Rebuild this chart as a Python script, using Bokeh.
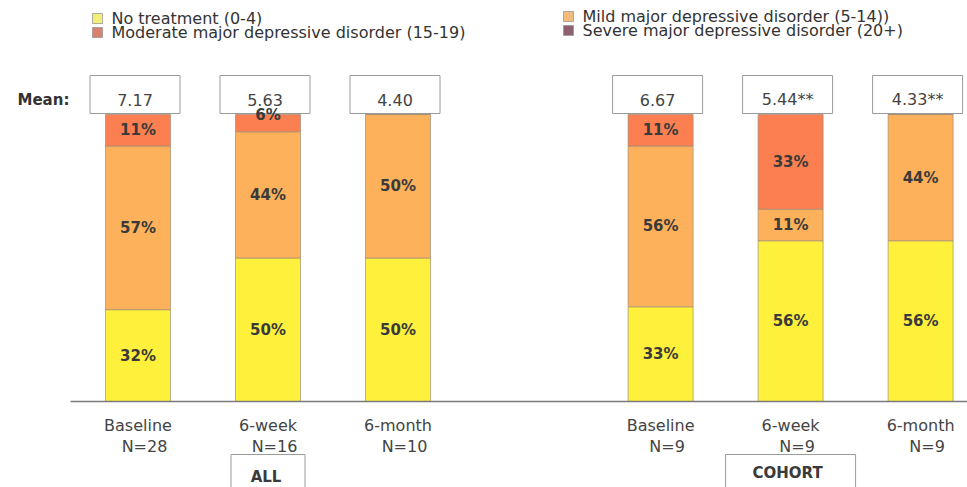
from bokeh.plotting import figure
from bokeh.models import Range1d, ColumnDataSource
from bokeh.embed import file_html
from bokeh.resources import INLINE
from bokeh.core.properties import value

# ---------------- data ----------------
periods = ["Baseline", "6-week", "6-month", "Baseline", "6-week", "6-month"]
n_labels = ["N=28", "N=16", "N=10", "N=9", "N=9", "N=9"]
groups = ["ALL", "ALL", "ALL", "COHORT", "COHORT", "COHORT"]
group_names = ["ALL", "COHORT"]
means = ["7.17", "5.63", "4.40", "6.67", "5.44**", "4.33**"]
no_treatment = [32, 50, 50, 33, 56, 56]
mild = [57, 44, 50, 56, 11, 44]
moderate = [11, 6, 0, 11, 33, 0]
severe = [0, 0, 0, 0, 0, 0]
series_names = ["No treatment (0-4)", "Mild major depressive disorder (5-14))",
                "Moderate major depressive disorder (15-19)", "Severe major depressive disorder (20+)"]

# ---------------- styles ----------------
FONT = value("DejaVu Sans")
bar_colors = ["#FFF03C", "#FDB15B", "#FB7F51", "#8E6070"]
legend_colors = ["#F3EE78", "#F2BC7A", "#D9806E", "#8E6070"]
W, H = 967, 487
PX = 130.0          # pixels per x unit
PY = 2.87           # pixels per percentage point
BASE_PX = 401       # pixel row of 0 %
x_start = -137.5 / PX
x_end = x_start + W / PX
y_end = BASE_PX / PY
y_start = -(H - BASE_PX) / PY


def X(px):
    return x_start + px / PX


def Y(py):
    return (BASE_PX - py) / PY


# bar positions: gap of one slot between the two groups
xs = []
for i, g in enumerate(groups):
    xs.append(i + (1.02 if g == "COHORT" else 0.0))

p = figure(width=W, height=H, x_range=Range1d(x_start, x_end), y_range=Range1d(y_start, y_end),
           toolbar_location=None, output_backend="svg", min_border=0,
           x_axis_location=None, y_axis_location=None)
p.grid.visible = False
p.outline_line_color = None
p.background_fill_color = "white"
p.border_fill_color = "white"

series = [no_treatment, mild, moderate, severe]
keys = ["none", "mild", "moderate", "severe"]
src = ColumnDataSource(dict(x=xs, none=no_treatment, mild=mild, moderate=moderate, severe=severe))
use = [k for k, s in zip(keys, series) if sum(s) > 0]
use_colors = [bar_colors[keys.index(k)] for k in use]
p.vbar_stack(use, x="x", width=0.5, source=src, fill_color=use_colors,
             line_color="#a08c78", line_width=0.7)

# mean boxes
box_half = 45 / PX
bx = [x - 3 / PX for x in xs]
p.quad(left=[b - box_half for b in bx], right=[b + box_half for b in bx],
       bottom=[Y(113)] * len(bx), top=[Y(75)] * len(bx),
       fill_color=None, line_color="#9a9a9a", line_width=1)
p.text(x=bx, y=[Y(99)] * len(bx), text=means, text_font=FONT, text_font_size="16px",
       text_color="#444444", text_align="center", text_baseline="middle")
p.text(x=[X(17)], y=[Y(99)], text=["Mean:"], text_font=FONT, text_font_style="bold",
       text_font_size="15px", text_color="#333333", text_align="left", text_baseline="middle")

# segment labels
lx, ly, lt = [], [], []
for i, x in enumerate(xs):
    cum = 0
    for s in series:
        v = s[i]
        if v > 0:
            mid = cum + v / 2.0
            if v < 8:
                mid = cum + v
            lx.append(x)
            ly.append(mid)
            lt.append(f"{v}%")
        cum += v
p.text(x=lx, y=ly, text=lt, text_font=FONT, text_font_style="bold", text_font_size="15px",
       text_color="#3a3a3a", text_align="center", text_baseline="middle")

# baseline axis line
p.segment(x0=[X(70)], x1=[x_end], y0=[0], y1=[0], line_color="#7a7a7a", line_width=1.5)

# x labels
p.text(x=xs, y=[Y(425)] * len(xs), text=periods, text_font=FONT, text_font_size="16px",
       text_color="#444444", text_align="center", text_baseline="middle")
p.text(x=[x + 0.05 for x in xs], y=[Y(446)] * len(xs), text=n_labels, text_font=FONT,
       text_font_size="16px", text_color="#444444", text_align="center", text_baseline="middle")

# group boxes
gx = []
for g in group_names:
    idx = [i for i, gg in enumerate(groups) if gg == g]
    gx.append(xs[idx[len(idx) // 2]])
g_half = [37 / PX, 65 / PX]
p.quad(left=[x - h for x, h in zip(gx, g_half)], right=[x + h for x, h in zip(gx, g_half)],
       bottom=[Y(500)] * 2, top=[Y(454)] * 2, fill_color="white", line_color="#9a9a9a", line_width=1)
p.text(x=[gx[0] - 2 / PX, gx[1] - 3 / PX], y=[Y(476), Y(472)], text=group_names, text_font=FONT,
       text_font_style="bold", text_font_size="15px", text_color="#3a3a3a",
       text_align="center", text_baseline="middle")

# legend (two columns)
leg_x = [X(97), X(568), X(97), X(568)]
leg_y = [Y(18), Y(16), Y(32), Y(30)]
order = [0, 1, 2, 3]
p.scatter(x=leg_x, y=leg_y, marker="square", size=10, fill_color=[legend_colors[o] for o in order],
          line_color="#999999", line_width=0.8)
p.text(x=[x + 14 / PX for x in leg_x], y=leg_y, text=[series_names[o] for o in order], text_font=FONT,
       text_font_size="16px", text_color="#333333", text_align="left", text_baseline="middle")

open("out.html", "w").write(file_html(p, INLINE))
